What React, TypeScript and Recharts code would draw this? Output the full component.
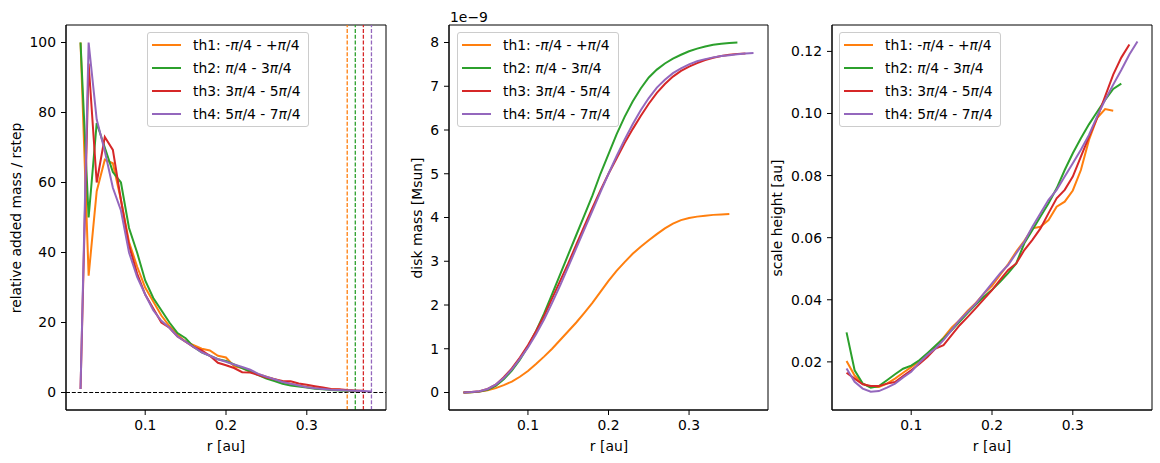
import React from "react";
import { LineChart, Line, XAxis, YAxis, ReferenceLine, ReferenceArea, Legend } from "recharts";

// radial grid (au)
const R = [
  0.02, 0.03, 0.04, 0.05, 0.06, 0.07, 0.08, 0.09, 0.1, 0.11, 0.12, 0.13, 0.14,
  0.15, 0.16, 0.17, 0.18, 0.19, 0.2, 0.21, 0.22, 0.23, 0.24, 0.25, 0.26, 0.27,
  0.28, 0.29, 0.3, 0.31, 0.32, 0.33, 0.34, 0.35, 0.36, 0.37, 0.38,
];

const LABELS = [
  "th1: -π/4 - +π/4",
  "th2: π/4 - 3π/4",
  "th3: 3π/4 - 5π/4",
  "th4: 5π/4 - 7π/4",
];
const COLORS = ["#ff7f0e", "#2ca02c", "#d62728", "#9467bd"];

// relative added mass / rstep
const addedTh1 = [100, 33.4, 57.5, 66.5, 65.5, 55, 43, 36, 30, 26, 22, 19, 16.5, 14.5, 13.5, 12.5, 12, 10.5, 10, 7.5, 7, 6, 5.2, 4.5, 3.8, 3, 2.5, 2, 1.6, 1.3, 1.1, 0.9, 0.8, 0.6];
const addedTh2 = [100, 50, 77, 70, 63, 60, 47, 40, 32, 27, 23.5, 20, 17, 15.5, 13, 11.5, 10.5, 9.5, 9, 8, 7, 6, 5, 4, 3.3, 2.5, 2, 1.7, 1.4, 1.1, 0.9, 0.7, 0.6, 0.5, 0.4];
const addedTh3 = [1, 94, 60, 73, 69.3, 55, 42, 34, 28, 24, 20, 18.5, 16, 14.5, 13, 12, 10.5, 8.5, 7.8, 7, 5.8, 5.7, 5, 4.3, 3.8, 3.3, 3.2, 2.6, 2.2, 1.8, 1.4, 1.0, 0.9, 0.7, 0.6, 0.5];
const addedTh4 = [1, 100, 78, 69, 58.5, 52, 40, 33, 28, 23.5, 20.5, 18.5, 16, 14.5, 13, 11.5, 10.5, 9.5, 8.8, 8, 7.3, 6.5, 5.3, 4.5, 3.8, 3, 2.5, 2, 1.5, 1.2, 1, 0.8, 0.7, 0.6, 0.5, 0.4, 0.3];

// cumulative disk mass, units of 1e-9 Msun
const massTh1 = [0, 0.005, 0.02, 0.05, 0.1, 0.17, 0.25, 0.36, 0.49, 0.65, 0.82, 1.0, 1.2, 1.4, 1.6, 1.82, 2.05, 2.3, 2.55, 2.78, 2.98, 3.17, 3.33, 3.48, 3.62, 3.75, 3.86, 3.94, 3.99, 4.02, 4.04, 4.06, 4.07, 4.08];
const massTh2 = [0, 0.005, 0.02, 0.06, 0.15, 0.3, 0.5, 0.75, 1.05, 1.4, 1.8, 2.25, 2.7, 3.15, 3.6, 4.05, 4.5, 5.0, 5.45, 5.9, 6.3, 6.65, 6.95, 7.2, 7.38, 7.52, 7.63, 7.72, 7.8, 7.86, 7.91, 7.95, 7.97, 7.99, 8.0];
const massTh3 = [0, 0.01, 0.03, 0.08, 0.18, 0.35, 0.55, 0.8, 1.08, 1.4, 1.75, 2.15, 2.55, 2.95, 3.38, 3.8, 4.22, 4.62, 5.0, 5.35, 5.7, 6.02, 6.32, 6.6, 6.85, 7.05, 7.22, 7.35, 7.45, 7.53, 7.6, 7.65, 7.69, 7.72, 7.74, 7.75];
const massTh4 = [0, 0.01, 0.03, 0.08, 0.18, 0.33, 0.53, 0.77, 1.03, 1.33, 1.67, 2.05, 2.45, 2.87, 3.3, 3.73, 4.15, 4.58, 5.0, 5.4, 5.78, 6.13, 6.45, 6.73, 6.97, 7.15, 7.3, 7.41, 7.5, 7.57, 7.62, 7.66, 7.69, 7.71, 7.73, 7.75, 7.76];

// scale height (au)
const hTh1 = [0.0203, 0.0156, 0.013, 0.0119, 0.0119, 0.013, 0.0146, 0.0165, 0.0183, 0.0202, 0.0225, 0.025, 0.0278, 0.031, 0.0335, 0.0365, 0.039, 0.042, 0.0445, 0.048, 0.0515, 0.0555, 0.059, 0.063, 0.0635, 0.0657, 0.07, 0.0716, 0.0752, 0.0818, 0.0915, 0.0985, 0.1014, 0.1009];
const hTh2 = [0.0295, 0.0173, 0.013, 0.0117, 0.0122, 0.0141, 0.016, 0.0178, 0.0188, 0.0205, 0.0228, 0.0252, 0.0275, 0.0302, 0.033, 0.0358, 0.0385, 0.041, 0.0432, 0.0458, 0.0486, 0.0517, 0.0582, 0.0625, 0.0668, 0.0711, 0.0759, 0.0818, 0.0872, 0.092, 0.0965, 0.1005, 0.1044, 0.1079, 0.1096];
const hTh3 = [0.0165, 0.0146, 0.0128, 0.0122, 0.0122, 0.013, 0.0135, 0.0154, 0.0173, 0.0193, 0.0216, 0.0243, 0.0254, 0.0286, 0.0318, 0.0345, 0.0373, 0.0402, 0.0431, 0.0464, 0.0496, 0.0517, 0.056, 0.0593, 0.063, 0.0679, 0.0727, 0.0754, 0.0797, 0.0861, 0.0925, 0.0985, 0.1055, 0.1125, 0.118, 0.1222];
const hTh4 = [0.0179, 0.0136, 0.0114, 0.0104, 0.0106, 0.0117, 0.013, 0.015, 0.0168, 0.0197, 0.0222, 0.0243, 0.027, 0.0302, 0.0335, 0.0361, 0.0388, 0.0421, 0.0453, 0.0485, 0.0512, 0.055, 0.0587, 0.0635, 0.0679, 0.0722, 0.0754, 0.0797, 0.084, 0.0883, 0.0931, 0.099, 0.1044, 0.1093, 0.114, 0.119, 0.1232];

const X_TICKS = [0.1, 0.2, 0.3];
const ADDED_TICKS = [0, 20, 40, 60, 80, 100];
const MASS_TICKS = [0, 1, 2, 3, 4, 5, 6, 7, 8];
const H_TICKS = [0.02, 0.04, 0.06, 0.08, 0.1, 0.12];

const FONT = "'DejaVu Sans', sans-serif";
const FS = 13.9;
const X_DOMAIN: [number, number] = [0.002, 0.398];

function toPoints(vals: number[]) {
  return vals.map((v, i) => ({ r: R[i], v }));
}

function mathLabel(s: string) {
  const parts = s.split("π");
  return parts.map((p, i) => (
    <React.Fragment key={i}>
      {p}
      {i < parts.length - 1 && <i>π</i>}
    </React.Fragment>
  ));
}

function LegendBox(props: any) {
  const payload = props.payload || [];
  return (
    <div
      style={{
        border: "1px solid #cccccc",
        borderRadius: 3,
        background: "rgba(255,255,255,0.8)",
        padding: "1px 7px 1px 4px",
        fontFamily: FONT,
        fontSize: FS,
        color: "#000",
      }}
    >
      {payload.map((p: any, i: number) => (
        <div key={i} style={{ display: "flex", alignItems: "center", height: 22.8, whiteSpace: "nowrap" }}>
          <span style={{ display: "inline-block", width: 29, height: 2, background: p.color, marginRight: 12 }} />
          <span>{mathLabel(String(p.value))}</span>
        </div>
      ))}
    </div>
  );
}

type PanelProps = {
  left: number;
  width: number;
  yWidth: number;
  rightMargin: number;
  series: number[][];
  yDomain: [number, number];
  yTicks: number[];
  yFormat: (v: number) => string;
  legendLeft: number;
  markEdges?: boolean;
};

const TOP = 25;
const PLOT_BOTTOM = 410;
const H = 463;
const X_AXIS_H = 30;

function Panel({ left, width, yWidth, rightMargin, series, yDomain, yTicks, yFormat, legendLeft, markEdges }: PanelProps) {
  const tickStyle = { fill: "#000", fontSize: FS, fontFamily: FONT };
  return (
    <div style={{ position: "absolute", left, top: 0 }}>
      <LineChart
        width={width}
        height={H}
        margin={{ top: TOP, right: rightMargin, left: 0, bottom: H - PLOT_BOTTOM - X_AXIS_H }}
      >
        <XAxis
          dataKey="r"
          type="number"
          domain={X_DOMAIN}
          allowDataOverflow
          ticks={X_TICKS}
          tickFormatter={(v: number) => v.toFixed(1)}
          tick={tickStyle}
          tickSize={5}
          tickMargin={5}
          height={X_AXIS_H}
          axisLine={{ stroke: "#000", strokeWidth: 1 }}
          tickLine={{ stroke: "#000", strokeWidth: 1 }}
        />
        <YAxis
          type="number"
          domain={yDomain}
          allowDataOverflow
          ticks={yTicks}
          tickFormatter={yFormat}
          tick={tickStyle}
          tickSize={5}
          tickMargin={5}
          width={yWidth}
          axisLine={{ stroke: "#000", strokeWidth: 1 }}
          tickLine={{ stroke: "#000", strokeWidth: 1 }}
        />
        {markEdges && <ReferenceLine y={0} stroke="#000" strokeWidth={1} strokeDasharray="4 1.8" />}
        {markEdges &&
          series.map((s, i) => (
            <ReferenceLine
              key={"edge" + i}
              x={R[s.length - 1]}
              stroke={COLORS[i]}
              strokeWidth={1.3}
              strokeDasharray="4 1.8"
            />
          ))}
        {series.map((s, i) => (
          <Line
            key={i}
            data={toPoints(s)}
            dataKey="v"
            name={LABELS[i]}
            type="linear"
            stroke={COLORS[i]}
            strokeWidth={2}
            dot={false}
            activeDot={false}
            isAnimationActive={false}
          />
        ))}
        {/* axes frame */}
        <ReferenceArea
          x1={X_DOMAIN[0]}
          x2={X_DOMAIN[1]}
          y1={yDomain[0]}
          y2={yDomain[1]}
          fill="none"
          fillOpacity={0}
          stroke="#000"
          strokeWidth={1}
          ifOverflow="visible"
        />
        <Legend
          layout="vertical"
          align="center"
          verticalAlign="middle"
          content={LegendBox}
          wrapperStyle={{ left: legendLeft - left, top: 32, width: "auto", height: "auto" }}
        />
      </LineChart>
    </div>
  );
}

const text: React.CSSProperties = {
  position: "absolute",
  fontFamily: FONT,
  fontSize: FS,
  color: "#000",
  whiteSpace: "nowrap",
  lineHeight: "16px",
};

function YTitle({ x, children }: { x: number; children: React.ReactNode }) {
  return (
    <div style={{ ...text, left: x, top: 217.5, transform: "translate(-50%, -50%) rotate(-90deg)" }}>{children}</div>
  );
}

function XTitle({ x }: { x: number }) {
  return <div style={{ ...text, left: x, top: 446, transform: "translate(-50%, -50%)" }}>r [au]</div>;
}

export default function App() {
  return (
    <div style={{ position: "absolute", left: 0, top: 0, width: 1160, height: 463, background: "#fff", overflow: "hidden" }}>
      <Panel
        left={0}
        width={390}
        yWidth={66}
        rightMargin={4}
        series={[addedTh1, addedTh2, addedTh3, addedTh4]}
        yDomain={[-5, 105]}
        yTicks={ADDED_TICKS}
        yFormat={(v) => String(v)}
        legendLeft={147}
        markEdges
      />
      <Panel
        left={390}
        width={380}
        yWidth={59}
        rightMargin={2}
        series={[massTh1, massTh2, massTh3, massTh4]}
        yDomain={[-0.4, 8.4]}
        yTicks={MASS_TICKS}
        yFormat={(v) => String(v)}
        legendLeft={457}
      />
      <Panel
        left={770}
        width={390}
        yWidth={62}
        rightMargin={8}
        series={[hTh1, hTh2, hTh3, hTh4]}
        yDomain={[0.0045, 0.1285]}
        yTicks={H_TICKS}
        yFormat={(v) => v.toFixed(2)}
        legendLeft={839}
      />
      <YTitle x={16}>relative added mass / rstep</YTitle>
      <YTitle x={417}>disk mass [Msun]</YTitle>
      <YTitle x={777}>scale height [au]</YTitle>
      <XTitle x={226} />
      <XTitle x={609} />
      <XTitle x={992} />
      <div style={{ ...text, left: 450, top: 9 }}>1e−9</div>
    </div>
  );
}
